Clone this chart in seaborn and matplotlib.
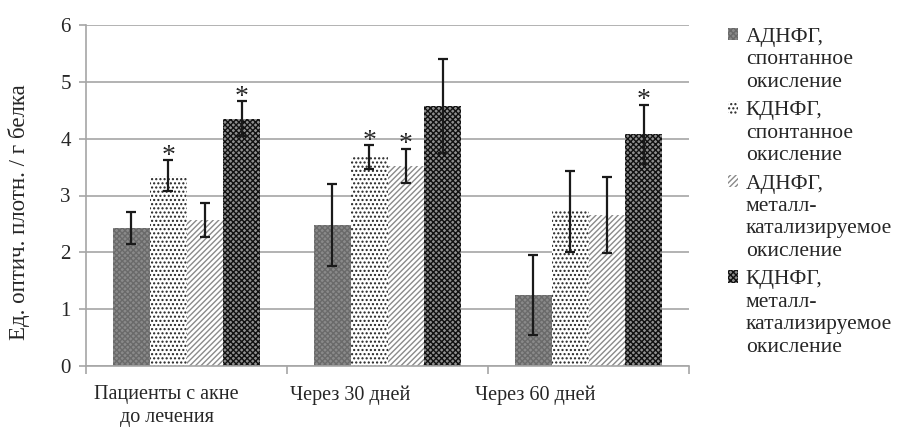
import numpy as np
import pandas as pd
import matplotlib
matplotlib.use('Agg')
import matplotlib.pyplot as plt
import matplotlib.transforms as mtransforms
import seaborn as sns

# данные
groups = ['Пациенты с акне\nдо лечения', 'Через 30 дней', 'Через 60 дней']
series = ['АДНФГ,\nспонтанное\nокисление', 'КДНФГ,\nспонтанное\nокисление',
          'АДНФГ,\nметалл-\nкатализируемое\nокисление', 'КДНФГ,\nметалл-\nкатализируемое\nокисление']
means = [[2.43, 2.48, 1.25],
         [3.35, 3.67, 2.72],
         [2.57, 3.52, 2.66],
         [4.35, 4.57, 4.08]]
errs = [[0.28, 0.72, 0.70],
        [0.27, 0.21, 0.71],
        [0.30, 0.30, 0.67],
        [0.31, 0.83, 0.52]]
stars = [[False, False, False],
         [True, True, False],
         [False, True, False],
         [True, False, True]]

rows = []
for s, vals in zip(series, means):
    for g, v in zip(groups, vals):
        rows.append({'group': g, 'series': s, 'value': v})
df = pd.DataFrame(rows)

sns.set_style('white')
plt.rcParams['font.family'] = ['Liberation Serif', 'DejaVu Serif']
plt.rcParams['hatch.linewidth'] = 1.0

fig = plt.figure(figsize=(9.02, 4.28), dpi=100)
ax = fig.add_axes([86 / 902, 62 / 428, 603 / 902, 341 / 428])

sns.barplot(data=df, x='group', y='value', hue='series', order=groups, hue_order=series,
            errorbar=None, width=0.73, ax=ax, legend=True)

faces = ['#8a8a8a', 'white', 'white', '#8f8f8f']
hcols = ['#6a6a6a', '#222222', '#8a8a8a', '#111111']
hatches = ['xxxxxx', '....', '//////', 'xxxxxx']
bar_conts = list(ax.containers)
for i, cont in enumerate(bar_conts):
    for j, bar in enumerate(cont):
        bar.set_facecolor(faces[i])
        bar.set_edgecolor(hcols[i])
        bar.set_hatch(hatches[i])
        bar.set_linewidth(0)
        cx = bar.get_x() + bar.get_width() / 2
        top = bar.get_height()
        ax.errorbar(cx, top, yerr=errs[i][j], color='#1a1a1a', elinewidth=1.6,
                    capsize=3.5, capthick=1.6, zorder=5)
        if stars[i][j]:
            ax.text(cx, top + errs[i][j] - 0.15, '*', ha='center', va='bottom',
                    fontsize=20, zorder=6)

ax.set_ylim(0, 6)
ax.set_xlim(-0.5, 2.5)
ax.set_yticks(range(7))
ax.yaxis.grid(True, color='#a6a6a6', linewidth=1.2)
ax.set_axisbelow(True)
for sp in ['top', 'right']:
    ax.spines[sp].set_visible(False)
for sp in ['left', 'bottom']:
    ax.spines[sp].set_color('#a6a6a6')
    ax.spines[sp].set_linewidth(1.2)

ax.tick_params(axis='y', which='major', length=5, width=1.2, color='#a6a6a6',
               labelsize=15, pad=6, left=True)
ax.set_xticks([-0.5, 0.5, 1.5, 2.5], minor=True)
ax.tick_params(axis='x', which='minor', length=6, width=1.2, color='#a6a6a6', bottom=True)
ax.tick_params(axis='x', which='major', length=0, labelsize=14.5, pad=14)
ax.set_xticklabels(groups, linespacing=1.25)
shifts = [-20, -37, -53]
for lab, dx in zip(ax.get_xticklabels(), shifts):
    lab.set_verticalalignment('top')
    lab.set_transform(lab.get_transform() + mtransforms.ScaledTranslation(dx / 100, 0, fig.dpi_scale_trans))

ax.set_xlabel('')
ax.set_ylabel('Ед. оптич. плотн. / г белка', fontsize=16.5)
ax.yaxis.set_label_coords(-0.093, 0.45)

handles, labels = ax.get_legend_handles_labels()
leg = ax.legend(handles, labels, loc='upper left', bbox_to_anchor=(0.797, 0.955),
                bbox_transform=fig.transFigure, frameon=False, fontsize=15.5,
                handlelength=0.5, handleheight=0.5, handletextpad=0.35,
                labelspacing=0.45, borderaxespad=0)
for i, h in enumerate(leg.legend_handles):
    h.set_facecolor(faces[i])
    h.set_edgecolor(hcols[i])
    h.set_hatch(hatches[i])
    h.set_linewidth(0)
for t in leg.get_texts():
    t.set_linespacing(1.24)
for hp in leg._legend_handle_box.get_children():
    for c in hp.get_children():
        c.align = 'top'

fig.savefig('out.png', dpi=100)
